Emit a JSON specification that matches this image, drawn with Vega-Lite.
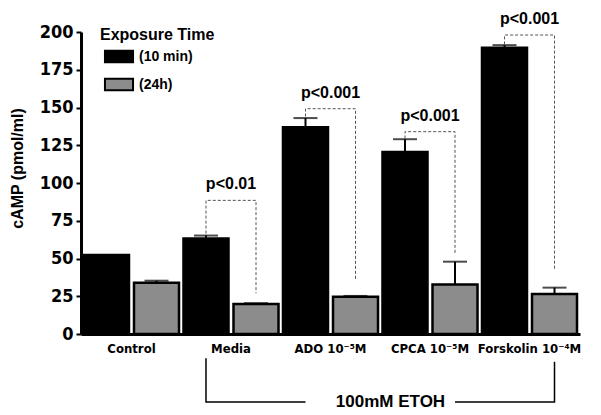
{
  "$schema": "https://vega.github.io/schema/vega-lite/v6.json",
  "autosize": "none",
  "padding": {"left": 81, "top": 32, "right": 21, "bottom": 81},
  "width": 499,
  "height": 302,
  "config": {"font": "Liberation Sans", "view": {"stroke": null}},
  "resolve": {"axis": {"x": "independent", "y": "independent"}},
  "datasets": {
    "bars": [
      {"category": "Control", "series": "10 min", "value": 52.3, "upper": 52.3},
      {"category": "Control", "series": "24h", "value": 34, "upper": 35.3},
      {"category": "Media", "series": "10 min", "value": 63.3, "upper": 65.2},
      {"category": "Media", "series": "24h", "value": 19.8, "upper": 20.4},
      {"category": "ADO 10⁻⁵M", "series": "10 min", "value": 137, "upper": 143},
      {"category": "ADO 10⁻⁵M", "series": "24h", "value": 24.7, "upper": 25.2},
      {"category": "CPCA 10⁻⁵M", "series": "10 min", "value": 120.5, "upper": 129},
      {"category": "CPCA 10⁻⁵M", "series": "24h", "value": 32.8, "upper": 47.9},
      {"category": "Forskolin 10⁻⁴M", "series": "10 min", "value": 189.5, "upper": 191.3},
      {"category": "Forskolin 10⁻⁴M", "series": "24h", "value": 26.5, "upper": 30.7}
    ],
    "brackets": [
      {"id": "Media", "category": "Media", "series": "10 min", "y": 66.5, "step": 1},
      {"id": "Media", "category": "Media", "series": "10 min", "y": 88.5, "step": 2},
      {"id": "Media", "category": "Media", "series": "24h", "y": 88.5, "step": 3},
      {"id": "Media", "category": "Media", "series": "24h", "y": 27, "step": 4},
      {"id": "ADO", "category": "ADO 10⁻⁵M", "series": "10 min", "y": 144, "step": 1},
      {"id": "ADO", "category": "ADO 10⁻⁵M", "series": "10 min", "y": 149.2, "step": 2},
      {"id": "ADO", "category": "ADO 10⁻⁵M", "series": "24h", "y": 149.2, "step": 3},
      {"id": "ADO", "category": "ADO 10⁻⁵M", "series": "24h", "y": 35.8, "step": 4},
      {"id": "CPCA", "category": "CPCA 10⁻⁵M", "series": "10 min", "y": 129.5, "step": 1},
      {"id": "CPCA", "category": "CPCA 10⁻⁵M", "series": "10 min", "y": 134, "step": 2},
      {"id": "CPCA", "category": "CPCA 10⁻⁵M", "series": "24h", "y": 134, "step": 3},
      {"id": "CPCA", "category": "CPCA 10⁻⁵M", "series": "24h", "y": 53.6, "step": 4},
      {"id": "Forskolin", "category": "Forskolin 10⁻⁴M", "series": "10 min", "y": 191.8, "step": 1},
      {"id": "Forskolin", "category": "Forskolin 10⁻⁴M", "series": "10 min", "y": 198, "step": 2},
      {"id": "Forskolin", "category": "Forskolin 10⁻⁴M", "series": "24h", "y": 198, "step": 3},
      {"id": "Forskolin", "category": "Forskolin 10⁻⁴M", "series": "24h", "y": 42.4, "step": 4}
    ],
    "plabels": [
      {"category": "Media", "label": "p<0.01", "y": 88.5},
      {"category": "ADO 10⁻⁵M", "label": "p<0.001", "y": 149.2},
      {"category": "CPCA 10⁻⁵M", "label": "p<0.001", "y": 134},
      {"category": "Forskolin 10⁻⁴M", "label": "p<0.001", "y": 198}
    ],
    "etohLeft": [
      {"category": "Media", "series": "10 min", "y": -16, "step": 1},
      {"category": "Media", "series": "10 min", "y": -45, "step": 2},
      {"category": "ADO 10⁻⁵M", "series": "10 min", "y": -45, "step": 3}
    ],
    "etohRight": [
      {"category": "CPCA 10⁻⁵M", "series": "24h", "y": -45, "step": 1},
      {"category": "Forskolin 10⁻⁴M", "series": "24h", "y": -45, "step": 2},
      {"category": "Forskolin 10⁻⁴M", "series": "24h", "y": -18.3, "step": 3}
    ],
    "etohLabel": [
      {"category": "CPCA 10⁻⁵M", "label": "100mM ETOH", "y": -45}
    ]
  },
  "layer": [
    {
      "data": {"name": "bars"},
      "mark": {"type": "bar", "stroke": "black", "strokeWidth": 2.5},
      "encoding": {
        "x": {
          "field": "category", "type": "nominal", "sort": null,
          "scale": {"paddingInner": 0.045, "paddingOuter": 0.03},
          "axis": {
            "title": null, "labelAngle": 0, "ticks": false,
            "domainColor": "black", "domainWidth": 3,
            "labelFont": "DejaVu Sans Condensed", "labelFontWeight": "bold",
            "labelFontSize": 13, "labelColor": "black", "labelPadding": 8
          }
        },
        "xOffset": {
          "field": "series", "type": "nominal", "sort": null,
          "scale": {"paddingInner": 0.1, "paddingOuter": 0}
        },
        "y": {
          "field": "value", "type": "quantitative",
          "scale": {"domain": [0, 200], "nice": false},
          "axis": {
            "title": "cAMP (pmol/ml)", "values": [0, 25, 50, 75, 100, 125, 150, 175, 200],
            "labelOverlap": false,
            "grid": false, "domainColor": "black", "domainWidth": 3,
            "tickColor": "black", "tickWidth": 2, "tickSize": 5,
            "labelFont": "DejaVu Sans Condensed", "labelFontWeight": "bold",
            "labelFontSize": 18, "labelColor": "black", "labelPadding": 3,
            "titleFont": "Liberation Sans", "titleFontWeight": "bold", "titleFontSize": 16,
            "titleColor": "black", "titleAngle": -90, "titleX": -64, "titleY": 136,
            "titleAlign": "center", "titleBaseline": "middle"
          }
        },
        "color": {
          "field": "series", "type": "nominal",
          "scale": {"domain": ["10 min", "24h"], "range": ["#000000", "#8c8c8c"]},
          "legend": {
            "title": "Exposure Time", "orient": "none", "legendX": 19, "legendY": -5.5,
            "padding": 0, "titlePadding": 0, "rowPadding": 4,
            "titleFont": "Liberation Sans", "titleFontWeight": "bold", "titleFontSize": 16, "titleColor": "black",
            "labelFont": "Liberation Sans", "labelFontWeight": "bold", "labelFontSize": 14, "labelColor": "black",
            "labelExpr": "'(' + datum.label + ')'",
            "symbolType": "M-1.08,-0.446L1.08,-0.446L1.08,0.446L-1.08,0.446Z",
            "symbolSize": 676, "symbolStrokeColor": "black", "symbolStrokeWidth": 2,
            "symbolOffset": 5, "labelOffset": 6
          }
        }
      }
    },
    {
      "data": {"name": "bars"},
      "mark": {"type": "rule", "color": "black", "strokeWidth": 2},
      "encoding": {
        "x": {"field": "category", "type": "nominal", "sort": null, "axis": null},
        "xOffset": {"field": "series", "type": "nominal", "sort": null},
        "y": {"field": "value", "type": "quantitative", "axis": null},
        "y2": {"field": "upper"}
      }
    },
    {
      "data": {"name": "bars"},
      "mark": {"type": "tick", "color": "black", "orient": "horizontal", "size": 24, "thickness": 2},
      "encoding": {
        "x": {"field": "category", "type": "nominal", "sort": null, "axis": null},
        "xOffset": {"field": "series", "type": "nominal", "sort": null},
        "y": {"field": "upper", "type": "quantitative", "axis": null}
      }
    },
    {
      "data": {"name": "brackets"},
      "mark": {"type": "line", "color": "#555555", "strokeWidth": 1, "strokeDash": [3, 2]},
      "encoding": {
        "x": {"field": "category", "type": "nominal", "sort": null, "axis": null},
        "xOffset": {"field": "series", "type": "nominal", "sort": null},
        "y": {"field": "y", "type": "quantitative", "axis": null},
        "detail": {"field": "id"},
        "order": {"field": "step"}
      }
    },
    {
      "data": {"name": "plabels"},
      "mark": {"type": "text", "font": "Liberation Sans", "fontWeight": "bold", "fontSize": 16, "color": "black", "baseline": "middle", "dy": -16},
      "encoding": {
        "x": {"field": "category", "type": "nominal", "sort": null, "axis": null},
        "y": {"field": "y", "type": "quantitative", "axis": null},
        "text": {"field": "label"}
      }
    },
    {
      "data": {"name": "etohLeft"},
      "mark": {"type": "line", "color": "black", "strokeWidth": 1.5},
      "encoding": {
        "x": {"field": "category", "type": "nominal", "sort": null, "axis": null},
        "xOffset": {"field": "series", "type": "nominal", "sort": null},
        "y": {"field": "y", "type": "quantitative", "axis": null},
        "order": {"field": "step"}
      }
    },
    {
      "data": {"name": "etohRight"},
      "mark": {"type": "line", "color": "black", "strokeWidth": 1.5, "xOffset": 20},
      "encoding": {
        "x": {"field": "category", "type": "nominal", "sort": null, "axis": null},
        "xOffset": {"field": "series", "type": "nominal", "sort": null},
        "y": {"field": "y", "type": "quantitative", "axis": null},
        "order": {"field": "step"}
      }
    },
    {
      "data": {"name": "etohLabel"},
      "mark": {"type": "text", "font": "Liberation Sans", "fontWeight": "bold", "fontSize": 17, "color": "black", "baseline": "middle", "dx": 8},
      "encoding": {
        "x": {"field": "category", "type": "nominal", "sort": null, "bandPosition": 0, "axis": null},
        "y": {"field": "y", "type": "quantitative", "axis": null},
        "text": {"field": "label"}
      }
    }
  ]
}
